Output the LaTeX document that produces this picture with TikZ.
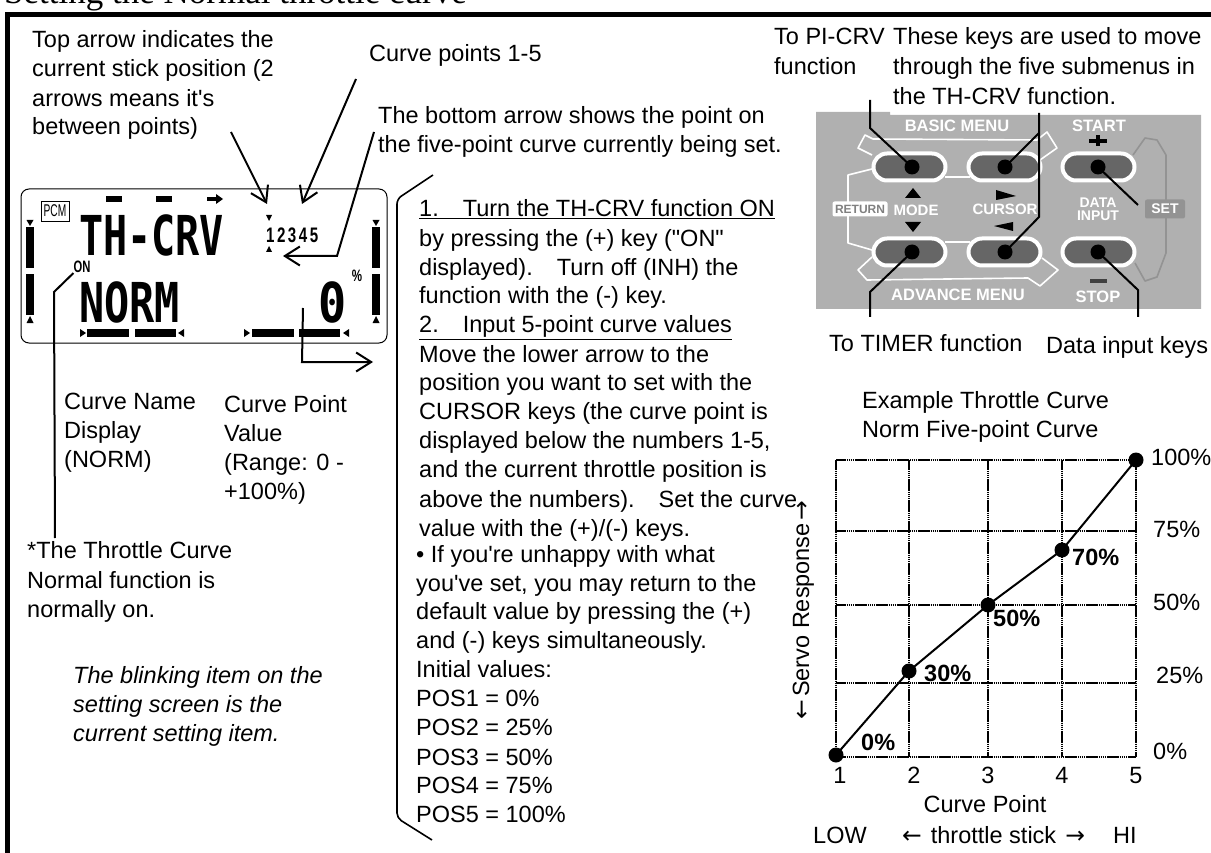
\documentclass[tikz,border=0pt]{standalone}
\usepackage{fontspec}
\setmainfont{Liberation Sans}
\newfontfamily\plainsans{Liberation Sans}
\newfontfamily\serifttl{Liberation Serif}
\newfontfamily\lcdfont{DejaVu Sans Mono}
\newfontfamily\arrowfont{DejaVu Sans}
\AtBeginDocument{\plainsans}
\usetikzlibrary{arrows.meta}
\definecolor{panelgray}{HTML}{B0B0B0}
\definecolor{keygray}{HTML}{666666}
\definecolor{setgray}{HTML}{939393}
\newcommand{\la}{{\arrowfont\char"2190}}
\newcommand{\ra}{{\arrowfont\char"2192}}
\tikzset{
  x=1pt,y=-1pt,
  txt/.style={inner sep=0pt,anchor=base west,font=\fontsize{23.5}{26}\selectfont},
  ctxt/.style={inner sep=0pt,anchor=base,font=\fontsize{23.5}{26}\selectfont},
  itxt/.style={txt,font=\fontsize{23.5}{26}\selectfont\itshape},
  btxt/.style={txt,font=\fontsize{23.5}{26}\selectfont\bfseries},
  lead/.style={line width=2pt,line join=miter},
  barb/.style={lead,-{Straight Barb[length=15pt,width=19pt,line width=2pt]}},
  loopw/.style={draw=white,line width=1.6pt,line join=round},
  pill/.style={draw=white,line width=4pt,fill=keygray,rounded corners=13.5pt,minimum width=72pt,minimum height=27pt,inner sep=0pt},
  kdot/.style={circle,fill=black,minimum size=15pt,inner sep=0pt},
  pdot/.style={circle,fill=black,minimum size=15pt,inner sep=0pt},
  ptxt/.style={inner sep=0pt,text=white,font=\fontsize{16.5}{18}\selectfont\bfseries},
  gridl/.style={line width=1.8pt,dash pattern=on 1.6pt off 0.5pt},
  lcd/.style={inner sep=0pt,anchor=west,font=\fontsize{55}{55}\selectfont\lcdfont\bfseries},
}
\begin{document}
\begin{tikzpicture}
\useasboundingbox (0,0) rectangle (1211,853);
% frame and title
\node[inner sep=0pt,anchor=base west,font=\fontsize{35}{37}\selectfont\serifttl] (title) at (4,4) {Setting the Normal throttle curve};
\fill (5,12) rectangle (1211,17);
\fill (5,12) rectangle (10,853);
% captions top left
\node[txt] (a1) at (32,48) {Top arrow indicates the};
\node[txt] (a2) at (32,77) {current stick position (2};
\node[txt] (a3) at (32,107) {arrows means it's};
\node[txt] (a4) at (32,135) {between points)};
\node[txt] (b1) at (369,62) {Curve points 1-5};
\node[txt] (c1) at (378,124) {The bottom arrow shows the point on};
\node[txt] (c2) at (378,153) {the five-point curve currently being set.};
% LCD
\draw[line width=1pt,rounded corners=8pt] (21,189) rectangle (387,343);
\node[draw,line width=.8pt,inner sep=0pt,minimum width=28pt,minimum height=20pt] (pcm) at (55,211) {\scalebox{.6}[1]{\fontsize{17}{17}\selectfont PCM}};
\fill (106,196) rectangle (122,202); \fill (156,196) rectangle (172,202);
\fill (207,197) rectangle (216,201); \fill (216,194)--(223,199)--(216,204)--cycle;
\node[lcd,xscale=.73] (thcrv) at (79,235) {TH-CRV};
\node[lcd,xscale=.76] (norm) at (79,302) {NORM};
\node[lcd,xscale=.85] (zero) at (318,302) {0};
\node[inner sep=0pt,font=\fontsize{16.5}{16.5}\selectfont\bfseries,xscale=.7] (pct) at (357,276) {\%};
\node[inner sep=0pt,font=\fontsize{16.5}{16.5}\selectfont\bfseries,xscale=.68] (on) at (82,267) {ON};
\node[inner sep=0pt,anchor=west,font=\fontsize{21}{21}\selectfont\bfseries,xscale=.72] (nums) at (266,235) {1\,2\,3\,4\,5};
\fill (266,215)--(272,215)--(269,221)--cycle;
\fill (266,252)--(272,252)--(269,246)--cycle;
\foreach \xx in {26,372}{
  \fill (\xx,227) rectangle +(8,41);
  \fill (\xx,274) rectangle +(8,41);
  \fill (\xx+.5,220)--(\xx+7.5,220)--(\xx+4,226)--cycle;
  \fill (\xx+.5,323)--(\xx+7.5,323)--(\xx+4,316)--cycle;
}
\foreach \xa/\xb/\xc/\xd in {80/87/135/184, 244/252/299/349}{
  \fill (\xa,329)--(\xa+6,333)--(\xa,337)--cycle;
  \fill (\xb,329) rectangle +(42,8);
  \fill (\xc,329) rectangle +(41,8);
  \fill (\xd,329)--(\xd-6,333)--(\xd,337)--cycle;
}
% LCD leaders
\coordinate (arrA0) at (231,132); \coordinate (arrA1) at (267,204);
\coordinate (arrB0) at (356,79); \coordinate (arrB1) at (302,204);
\coordinate (arrC0) at (374,132); \coordinate (arrC1) at (337,256); \coordinate (arrC2) at (283,256);
\draw[barb] (arrA0)--(arrA1);
\draw[barb] (arrB0)--(arrB1);
\draw[barb] (arrC0)--(arrC1)--(arrC2);
\coordinate (v0) at (303,308); \coordinate (v1) at (302,362); \coordinate (v2) at (373,362);
\draw[barb] (v0)--(v1)--(v2);
\coordinate (on1) at (54,292); \coordinate (on2) at (55,538);
\draw[lead] (on.south west)--(on1)--(on2);
% LCD captions
\node[txt] (d1) at (64,409) {Curve Name};
\node[txt] (d2) at (64,438) {Display};
\node[txt] (d3) at (64,467) {(NORM)};
\node[txt] (e1) at (224,412) {Curve Point};
\node[txt] (e2) at (224,441) {Value};
\node[txt] (e3) at (224,470) {(Range: 0 -};
\node[txt] (e4) at (224,499) {+100\%)};
\node[txt] (f1) at (27,558) {*The Throttle Curve};
\node[txt] (f2) at (27,588) {Normal function is};
\node[txt] (f3) at (27,617) {normally on.};
\node[itxt] (g1) at (73,683) {The blinking item on the};
\node[itxt] (g2) at (73,712) {setting screen is the};
\node[itxt] (g3) at (73,741) {current setting item.};
% bracket
\draw[rounded corners=5pt,line width=1.6pt] (433,175)--(397,199)--(397,818)--(432,840);
% middle text
\node[txt] (m1) at (419,217) {\underline{1.\hspace{24pt}Turn the TH-CRV function ON}};
\node[txt] (m2) at (419,247) {by pressing the (+) key ("ON"};
\node[txt] (m3) at (419,276) {displayed).\hspace{24pt}Turn off (INH) the};
\node[txt] (m4) at (419,304) {function with the (-) key.};
\node[txt] (m5) at (419,333) {\underline{2.\hspace{24pt}Input 5-point curve values}};
\node[txt] (m6) at (419,362) {Move the lower arrow to the};
\node[txt] (m7) at (419,390) {position you want to set with the};
\node[txt] (m8) at (419,419) {CURSOR keys (the curve point is};
\node[txt] (m9) at (419,448) {displayed below the numbers 1-5,};
\node[txt] (m10) at (419,477) {and the current throttle position is};
\node[txt] (m11) at (419,507) {above the numbers).\hspace{24pt}Set the curve};
\node[txt] (m12) at (419,536) {value with the (+)/(-) keys.};
\node[txt] (m13) at (416,562) {• If you're unhappy with what};
\node[txt] (m14) at (416,591) {you've set, you may return to the};
\node[txt] (m15) at (416,619) {default value by pressing the (+)};
\node[txt] (m16) at (416,648) {and (-) keys simultaneously.};
\node[txt] (m17) at (416,677) {Initial values:};
\node[txt] (m18) at (416,706) {POS1 = 0\%};
\node[txt] (m19) at (416,735) {POS2 = 25\%};
\node[txt] (m20) at (416,765) {POS3 = 50\%};
\node[txt] (m21) at (416,793) {POS4 = 75\%};
\node[txt] (m22) at (416,822) {POS5 = 100\%};
% top right captions
\node[txt] (h1) at (774,45) {To PI-CRV};
\node[txt] (h2) at (774,75) {function};
\node[txt] (i1) at (893,45) {These keys are used to move};
\node[txt] (i2) at (893,75) {through the five submenus in};
\node[txt] (i3) at (893,105) {the TH-CRV function.};
% key panel
\fill[panelgray] (816,112)--(890,112)--(890,115)--(1201,115)--(1201,309)--(816,309)--cycle;
\draw[loopw] (872,155)--(858,148)--(865,135)--(873,139)--(1037,140)--(1047,132)--(1057,148)--(1040,160);
\draw[loopw] (872,169)--(848,175)--(848,243)--(872,250);
\draw[loopw] (872,257)--(858,270)--(867,280)--(1028,278)--(1040,286)--(1058,270)--(1042,258);
\draw[loopw] (945,177)--(970,177); \draw[loopw] (945,242)--(970,242);
\draw[setgray,line width=1.6pt,line join=round] (1133,155)--(1145,138)--(1157,140)--(1166,155)--(1166,253)--(1157,277)--(1145,281)--(1135,263);
\node[pill] (k1) at (909.5,167) {};
\node[pill] (k2) at (1004.5,167) {};
\node[pill] (k3) at (1098.5,167) {};
\node[pill] (k4) at (909.5,252) {};
\node[pill] (k5) at (1004.5,252) {};
\node[pill] (k6) at (1098.5,252) {};
\node[kdot] (kd1) at (912,167) {};
\node[kdot] (kd2) at (1005,167) {};
\node[kdot] (kd3) at (1098,167) {};
\node[kdot] (kd4) at (912,252) {};
\node[kdot] (kd5) at (1005,252) {};
\node[kdot] (kd6) at (1098,252) {};
\node[ptxt] (pn1) at (957,126) {BASIC MENU};
\node[ptxt] (pn2) at (1099,126) {START};
\node[ptxt] (pn3) at (958,295) {ADVANCE MENU};
\node[ptxt] (pn4) at (1098,297) {STOP};
\node[ptxt,font=\fontsize{15}{15}\selectfont\bfseries] (pn5) at (916,210) {MODE};
\node[ptxt,font=\fontsize{15}{15}\selectfont\bfseries] (pn6) at (1005,209) {CURSOR};
\node[ptxt,font=\fontsize{14}{14}\selectfont\bfseries] (pn7) at (1098,203) {DATA};
\node[ptxt,font=\fontsize{14}{14}\selectfont\bfseries] (pn8) at (1098,216) {INPUT};
\node[fill=white,rounded corners=2pt,inner sep=0pt,minimum width=55pt,minimum height=15pt,text=gray,font=\fontsize{12}{12}\selectfont\bfseries] (pn9) at (860,209) {RETURN};
\node[fill=setgray,rounded corners=2pt,inner sep=0pt,minimum width=40pt,minimum height=19pt,text=white,font=\fontsize{14}{14}\selectfont\bfseries] (pn10) at (1165,209) {SET};
\fill (905,198)--(921,198)--(913,188)--cycle;
\fill (905,222)--(921,222)--(913,232)--cycle;
\fill (996,190)--(1016,196)--(996,200)--cycle;
\fill (1013,222)--(994,226)--(1013,231)--cycle;
\fill (1089,139) rectangle (1107,143); \fill (1096,135) rectangle (1100,146);
\fill[black!75] (1090,279) rectangle (1107,283);
% key leaders
\coordinate (l1a) at (870,100); \coordinate (l1b) at (870,128);
\draw[lead] (l1a)--(l1b)--(kd1.center);
\coordinate (l2a) at (1039,113); \coordinate (l2b) at (1039,133); \coordinate (l2c) at (1039,217);
\draw[lead] (l2a)--(l2c)--(kd5.center);
\draw[lead] (l2b)--(kd2.center);
\coordinate (l3a) at (870,317); \coordinate (l3b) at (870,292);
\draw[lead] (l3a)--(l3b)--(kd4.center);
\coordinate (l4a) at (1138,317); \coordinate (l4b) at (1138,290); \coordinate (l4c) at (1138,205);
\draw[lead] (l4a)--(l4b)--(kd6.center);
\draw[lead] (l4c)--(kd3.center);
\node[txt] (j1) at (829,352) {To TIMER function};
\node[txt] (j2) at (1046,353) {Data input keys};
% chart
\node[txt] (ex1) at (862,408) {Example Throttle Curve};
\node[txt] (ex2) at (862,437) {Norm Five-point Curve};
\foreach \xx in {836,909,988,1062,1136}{\draw[gridl] (\xx,460)--(\xx,757);}
\foreach \yy in {460,531,605,683,757}{\draw[gridl] (836,\yy)--(1136,\yy);}
\node[pdot] (p1) at (836,755) {};
\node[pdot] (p2) at (909,671) {};
\node[pdot] (p3) at (988,605) {};
\node[pdot] (p4) at (1062,550) {};
\node[pdot] (p5) at (1136,460) {};
\draw[line width=2pt] (p1.center)--(p2.center)--(p3.center)--(p4.center)--(p5.center);
\node[btxt] (q1) at (861,750) {0\%};
\node[btxt] (q2) at (924,681) {30\%};
\node[btxt] (q3) at (993,626) {50\%};
\node[btxt] (q4) at (1072,565) {70\%};
\node[txt] (r1) at (1151,465) {100\%};
\node[txt] (r2) at (1153,537) {75\%};
\node[txt] (r3) at (1153,610) {50\%};
\node[txt] (r4) at (1156,683) {25\%};
\node[txt] (r5) at (1153,759) {0\%};
\node[ctxt] (s1) at (840,783) {1};
\node[ctxt] (s2) at (914,783) {2};
\node[ctxt] (s3) at (988,783) {3};
\node[ctxt] (s4) at (1062,783) {4};
\node[ctxt] (s5) at (1136,783) {5};
\node[ctxt] (cp) at (985,812) {Curve Point};
\node[txt] (lo) at (813,843) {LOW};
\node[txt] (ts) at (902,843) {\la\kern9pt throttle stick\kern9pt\ra};
\node[txt] (hi) at (1113,843) {HI};
\node[ctxt,rotate=90] (sr) at (809,610) {\la\kern3pt Servo Response\kern3pt\ra};
\end{tikzpicture}
\end{document}
